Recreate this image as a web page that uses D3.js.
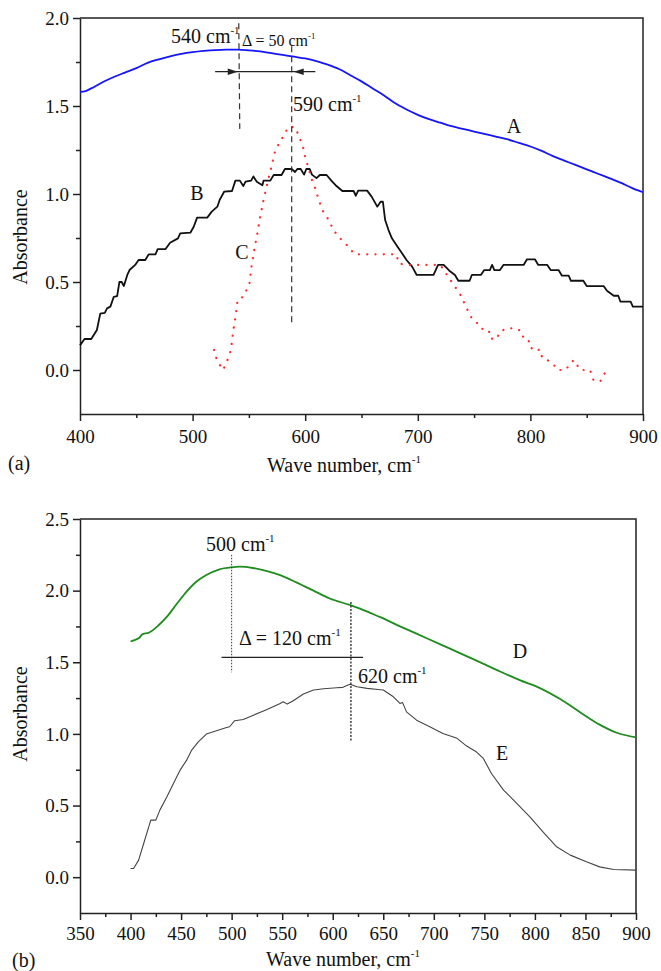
<!DOCTYPE html>
<html>
<head>
<meta charset="utf-8">
<script src="https://cdn.jsdelivr.net/npm/d3@7"></script>
<style>
  body { margin: 0; background: #fff; }
  svg { display: block; }
  text { font-family: "Liberation Serif", "Times New Roman", serif; fill: #111; }
</style>
</head>
<body>
<svg id="chart" width="661" height="971" font-family="Liberation Serif, serif"></svg>
<script>
// ---- panel (a) data ----
const waveA = [400,405,410,420,430,440,450,460,470,480,490,500,510,520,530,540,550,560,570,580,590,600,610,620,630,640,650,660,670,680,690,700,710,720,730,740,750,760,770,780,790,800,810,820,830,840,850,860,870,880,890,900];
const absA  = [1.58,1.585,1.60,1.635,1.665,1.69,1.715,1.745,1.765,1.782,1.796,1.806,1.813,1.818,1.82,1.82,1.816,1.81,1.80,1.79,1.78,1.77,1.755,1.735,1.71,1.675,1.64,1.60,1.56,1.515,1.48,1.45,1.425,1.405,1.385,1.37,1.355,1.34,1.325,1.31,1.29,1.27,1.245,1.215,1.19,1.165,1.14,1.115,1.09,1.065,1.035,1.01];

const waveB = [400,404,410,415,418,422,424,427,430,433,435,437,439,442,444,449,452,458,461,467,469,476,480,487,489,498,501,504,513,517,522,524,528,535,538,542,545,547,552,554,557,562,563,569,572,579,582,588,591,593,596,599,601,604,606,610,613,619,624,627,633,643,645,647,655,659,664,667,669,671,674,677,682,686,690,695,699,714,718,723,728,733,736,746,748,756,759,764,766,768,773,776,794,797,804,807,815,818,825,828,834,836,847,850,865,868,874,878,880,889,891,900];
const absB  = [0.14,0.176,0.176,0.227,0.32,0.325,0.35,0.36,0.416,0.42,0.50,0.50,0.477,0.54,0.568,0.597,0.625,0.625,0.657,0.657,0.687,0.687,0.723,0.748,0.776,0.78,0.814,0.866,0.866,0.90,0.928,0.966,1.013,1.017,1.076,1.076,1.045,1.07,1.076,1.10,1.07,1.05,1.076,1.076,1.108,1.108,1.142,1.142,1.125,1.142,1.142,1.11,1.142,1.142,1.11,1.09,1.108,1.108,1.07,1.05,1.017,1.017,0.99,1.019,1.019,0.985,0.928,0.956,0.956,0.852,0.795,0.748,0.70,0.663,0.625,0.587,0.54,0.54,0.597,0.597,0.564,0.54,0.507,0.507,0.54,0.54,0.568,0.568,0.597,0.568,0.568,0.597,0.597,0.629,0.629,0.597,0.597,0.568,0.568,0.536,0.536,0.507,0.507,0.477,0.477,0.45,0.422,0.422,0.388,0.388,0.36,0.36];

const waveC = [519,521.5,527,530,534,536,538.5,540,545,550.5,552.5,555,557.5,560,563,566,570,573.5,578,582,585,591,594,598,600,603,606,609,612,616,621,625,631,637,644,676,681,683,690,720,726,732,738,742,745,748,753,756,763,764.5,770,773,779,787,792.5,794,800,801.5,809,810.5,816,821,824,831,838.5,841.5,844.5,853,856,862,865,868];
const absC  = [0.114,0.057,0.0,0.038,0.114,0.218,0.32,0.40,0.416,0.49,0.597,0.69,0.776,0.871,0.966,1.05,1.155,1.25,1.30,1.345,1.38,1.38,1.335,1.27,1.21,1.146,1.08,1.03,0.966,0.90,0.852,0.795,0.748,0.71,0.657,0.657,0.657,0.606,0.597,0.597,0.54,0.483,0.426,0.37,0.33,0.293,0.265,0.236,0.227,0.18,0.175,0.218,0.237,0.237,0.218,0.174,0.16,0.114,0.114,0.066,0.053,0.028,0.0,0.0,0.057,0.028,0.0,0.0,-0.057,-0.066,-0.028,0.0];

// ---- panel (b) data ----
const waveD = [400,404,408,412,418,428,436,446,455,465,475,488,500,508,521,535,548,564,581,597,617,627,637,647,670,693,716,739,762,785,805,825,845,864,881,900];
const absD  = [1.645,1.655,1.667,1.697,1.706,1.76,1.818,1.91,1.99,2.062,2.109,2.149,2.163,2.167,2.158,2.136,2.108,2.058,2.0,1.945,1.90,1.875,1.845,1.815,1.74,1.668,1.595,1.522,1.447,1.375,1.32,1.243,1.15,1.065,1.008,0.976];

const waveE = [400,403,408,413,418,420,425,429,436,444,449,455.5,460.5,467,475,485,495,498,503,511.5,521.5,535,548,551,555,561,571,581,591,604,610,617,624,634,645,650,660,666.5,669,673,683,696,709,723,732.5,742,749,757,769,782,795,808,821.5,835,851,864,878,900];
const absE  = [0.061,0.061,0.119,0.235,0.351,0.398,0.398,0.468,0.561,0.677,0.747,0.817,0.887,0.945,0.999,1.022,1.045,1.05,1.092,1.101,1.131,1.171,1.213,1.224,1.208,1.231,1.278,1.306,1.315,1.322,1.325,1.346,1.329,1.318,1.31,1.306,1.259,1.213,1.22,1.154,1.096,1.05,1.003,0.969,0.915,0.875,0.829,0.724,0.608,0.515,0.421,0.316,0.212,0.154,0.107,0.072,0.054,0.049];

// ---- ticks ----
const ticksXA = [400,500,600,700,800,900];
const minorXA = [450,550,650,750,850];
const ticksYA = [0,0.5,1.0,1.5,2.0];
const minorYA = [0.25,0.75,1.25,1.75];
const ticksXB = [350,400,450,500,550,600,650,700,750,800,850,900];
const minorXB = [375,425,475,525,575,625,675,725,775,825,875];
const ticksYB = [0,0.5,1.0,1.5,2.0,2.5];
const minorYB = [0.25,0.75,1.25,1.75,2.25];

// annotation positions (wave number)
const peaksA = [541, 588];
const peaksB = [500, 618];

const svg = d3.select('#chart');
const axisColor = '#222';
const serif = '"Liberation Serif", "Times New Roman", serif';

function drawAxes(g, x, y, cfg) {
  const [x0, x1] = x.range();
  const [y0, y1] = y.range();

  g.append('g').attr('transform', `translate(0,${y0})`)
    .call(d3.axisBottom(x).tickValues(cfg.xMinor).tickSize(4).tickFormat('').tickSizeOuter(0))
    .call(a => a.select('.domain').remove());
  g.append('g').attr('transform', `translate(0,${y0})`)
    .call(d3.axisBottom(x).tickValues(cfg.xTicks).tickSize(7).tickPadding(cfg.xPad).tickSizeOuter(0).tickFormat(d3.format('d')));

  g.append('g').attr('transform', `translate(${x0},0)`)
    .call(d3.axisLeft(y).tickValues(cfg.yMinor).tickSize(4).tickFormat('').tickSizeOuter(0))
    .call(a => a.select('.domain').remove());
  g.append('g').attr('transform', `translate(${x0},0)`)
    .call(d3.axisLeft(y).tickValues(cfg.yTicks).tickSize(7).tickPadding(4).tickSizeOuter(0).tickFormat(d3.format('.1f')));

  // top and right frame
  g.append('path').attr('d', `M${x0},${y1}H${x1}V${y0}`)
    .attr('fill', 'none').attr('stroke', axisColor).attr('stroke-width', 1.5);

  g.selectAll('g').attr('font-family', serif);
  g.selectAll('.domain, .tick line').attr('stroke', axisColor).attr('stroke-width', 1.5);
  g.selectAll('.tick text').attr('font-size', 19).attr('fill', '#111');
}

function label(g, x, y, main, sup, size, anchor) {
  const t = g.append('text').attr('x', x).attr('y', y)
    .attr('font-size', size).attr('text-anchor', anchor || 'start');
  t.append('tspan').text(main);
  if (sup) t.append('tspan').attr('font-size', size * 0.55).attr('dy', -size * 0.45).text(sup);
  return t;
}

function drawLine(g, x, y, xs, ys, color, width, dash, curve) {
  const line = d3.line().x(d => x(d[0])).y(d => y(d[1])).curve(curve || d3.curveLinear);
  const p = g.append('path').datum(d3.zip(xs, ys))
    .attr('d', line).attr('fill', 'none')
    .attr('stroke', color).attr('stroke-width', width)
    .attr('stroke-linejoin', 'round');
  if (dash) p.attr('stroke-dasharray', dash).attr('stroke-linecap', 'round');
  return p;
}

// ================= panel (a) =================
const ga = svg.append('g');
const xa = d3.scaleLinear().domain([400, 900]).range([80, 643]);
const ya = d3.scaleLinear().domain([-0.25, 2.0]).range([414, 18]);

drawAxes(ga, xa, ya, { xTicks: ticksXA, xMinor: minorXA, yTicks: ticksYA, yMinor: minorYA, xPad: 9 });

drawLine(ga, xa, ya, waveA, absA, '#1414ff', 1.8, null, d3.curveMonotoneX);
drawLine(ga, xa, ya, waveB, absB, '#111', 1.8);
drawLine(ga, xa, ya, waveC, absC, '#ff2a2a', 2.2, '0.1,8.2');

// dashed peak markers
ga.append('line').attr('x1', xa(peaksA[0])).attr('x2', xa(peaksA[0]) + 1)
  .attr('y1', ya(1.97)).attr('y2', ya(1.37))
  .attr('stroke', '#333').attr('stroke-width', 1.2).attr('stroke-dasharray', '6,4');
ga.append('line').attr('x1', xa(peaksA[1])).attr('x2', xa(peaksA[1]))
  .attr('y1', ya(1.84)).attr('y2', ya(0.26))
  .attr('stroke', '#333').attr('stroke-width', 1.2).attr('stroke-dasharray', '6,4');

// double arrow between peaks
const arrY = ya(1.695);
ga.append('line').attr('x1', xa(520)).attr('x2', xa(609)).attr('y1', arrY).attr('y2', arrY)
  .attr('stroke', '#222').attr('stroke-width', 1.3);
const tipL = xa(peaksA[0]) - 1, tipR = xa(peaksA[1]) + 2;
ga.append('path').attr('d', `M${tipL},${arrY}L${tipL - 10},${arrY - 3.2}L${tipL - 10},${arrY + 3.2}Z`).attr('fill', '#222');
ga.append('path').attr('d', `M${tipR},${arrY}L${tipR + 10},${arrY - 3.2}L${tipR + 10},${arrY + 3.2}Z`).attr('fill', '#222');

label(ga, 171, 43, '540 cm', '-1', 20);
label(ga, 242, 46, '\u0394 = 50 cm', '-1', 16);
label(ga, 293, 111, '590 cm', '-1', 20);
label(ga, 514, 133, 'A', null, 20, 'middle');
label(ga, 197, 200, 'B', null, 20, 'middle');
label(ga, 242, 259, 'C', null, 20, 'middle');

label(ga, 267, 472, 'Wave number, cm', '-1', 20);
label(ga, 8, 470, '(a)', null, 20);
ga.append('text').attr('transform', 'translate(27,237) rotate(-90)')
  .attr('text-anchor', 'middle').attr('font-size', 20).text('Absorbance');

// ================= panel (b) =================
const gb = svg.append('g');
const xb = d3.scaleLinear().domain([350, 900]).range([80, 636]);
const yb = d3.scaleLinear().domain([-0.25, 2.5]).range([913, 519]);

drawAxes(gb, xb, yb, { xTicks: ticksXB, xMinor: minorXB, yTicks: ticksYB, yMinor: minorYB, xPad: 7 });

drawLine(gb, xb, yb, waveD, absD, '#1e8c1e', 1.8, null, d3.curveMonotoneX);
drawLine(gb, xb, yb, waveE, absE, '#444', 1.1);

gb.append('line').attr('x1', xb(peaksB[0])).attr('x2', xb(peaksB[0]))
  .attr('y1', yb(2.25)).attr('y2', yb(1.43))
  .attr('stroke', '#222').attr('stroke-width', 0.9).attr('stroke-dasharray', '1.5,1.5');
gb.append('line').attr('x1', xb(peaksB[1])).attr('x2', xb(peaksB[1]))
  .attr('y1', yb(1.92)).attr('y2', yb(0.945))
  .attr('stroke', '#222').attr('stroke-width', 1.3).attr('stroke-dasharray', '2,1.5');
gb.append('line').attr('x1', xb(490)).attr('x2', xb(630))
  .attr('y1', yb(1.534)).attr('y2', yb(1.534))
  .attr('stroke', '#222').attr('stroke-width', 1.3);

label(gb, 206, 551, '500 cm', '-1', 20);
label(gb, 239, 645, '\u0394 = 120 cm', '-1', 20);
label(gb, 358, 683, '620 cm', '-1', 20);
label(gb, 520, 658, 'D', null, 20, 'middle');
label(gb, 502, 760, 'E', null, 20, 'middle');

label(gb, 266, 966, 'Wave number, cm', '-1', 20);
label(gb, 12, 967, '(b)', null, 20);
gb.append('text').attr('transform', 'translate(27,714) rotate(-90)')
  .attr('text-anchor', 'middle').attr('font-size', 20).text('Absorbance');
</script>
</body>
</html>
